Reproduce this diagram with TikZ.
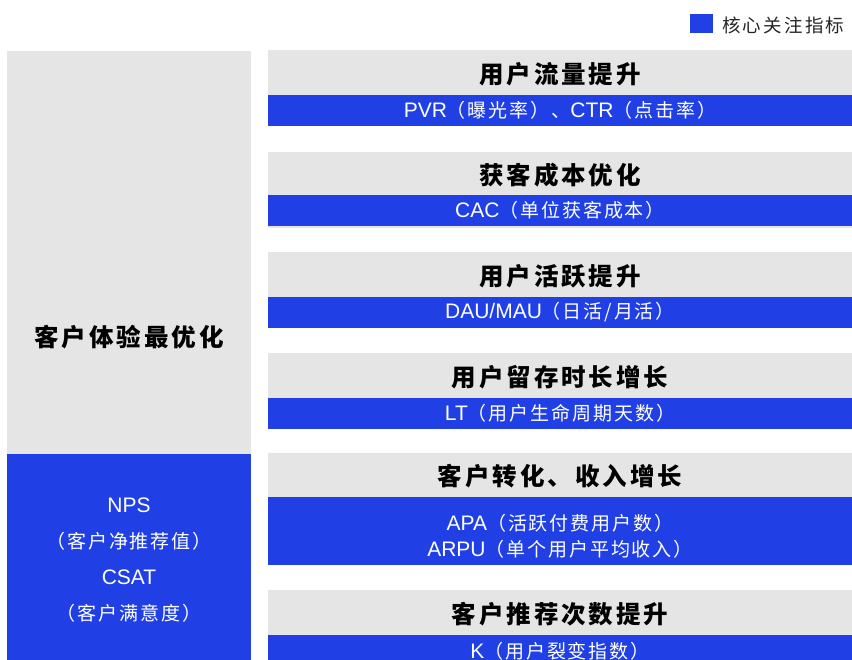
\documentclass[tikz,border=0pt]{standalone}
\usepackage{fontspec}
\setmainfont{Liberation Sans}
\newfontfamily\cjkt[LetterSpace=12]{Noto Sans CJK SC}
\newfontfamily\cjks[LetterSpace=10]{Noto Sans CJK SC}
\definecolor{kblue}{RGB}{32,64,230}
\definecolor{kgray}{RGB}{229,229,229}
\newcommand{\zh}[1]{{\cjks\fontsize{19}{25}\selectfont #1}}
\begin{document}
\begin{tikzpicture}[x=1pt,y=-1pt,
  box/.style={draw=none,inner sep=0pt,outer sep=0pt,anchor=north west},
  graybox/.style={box,fill=kgray},
  bluebox/.style={box,fill=kblue},
  ttl/.style={inner sep=0pt,font=\fontsize{24.5}{28}\selectfont\cjkt\bfseries,text=black},
  sub/.style={inner sep=0pt,font=\fontsize{21}{25}\selectfont,text=white,align=center},
]
\useasboundingbox (0,0) rectangle (852,660);

% legend
\node[bluebox,minimum width=23pt,minimum height=19pt] (leg) at (690,14) {};
\node[anchor=west,inner sep=0pt,font=\fontsize{18.5}{20}\selectfont\cjkt,text=black!85] (legt) at (722,25) {核心关注指标};

% left column
\node[graybox,minimum width=244pt,minimum height=403pt] (lg) at (7,51) {};
\node[bluebox,minimum width=244pt,minimum height=206pt] (lb) at (7,454) {};
\node[ttl] (lt) at (129,337) {客户体验最优化};
\node[sub,font=\fontsize{21}{36}\selectfont] (lbt) at (129,560) {NPS\\\zh{（客户净推荐值）}\\CSAT\\\zh{（客户满意度）}};

% block 1
\node[graybox,minimum width=584pt,minimum height=45pt] (g1) at (268,50) {};
\node[bluebox,minimum width=584pt,minimum height=31pt] (b1) at (268,95) {};
\node[ttl] (t1) at (560,74) {用户流量提升};
\node[sub] (s1) at (b1.center) {PVR\zh{（曝光率）、}CTR\zh{（点击率）}};

% block 2
\node[graybox,minimum width=584pt,minimum height=76pt] (g2) at (268,152) {};
\node[bluebox,minimum width=584pt,minimum height=31pt] (b2) at (268,195) {};
\node[ttl] (t2) at (560,175) {获客成本优化};
\node[sub] (s2) at (b2.center) {CAC\zh{（单位获客成本）}};

% block 3
\node[graybox,minimum width=584pt,minimum height=45pt] (g3) at (268,252) {};
\node[bluebox,minimum width=584pt,minimum height=31pt] (b3) at (268,297) {};
\node[ttl] (t3) at (560,276) {用户活跃提升};
\node[sub] (s3) at (b3.center) {DAU/MAU\zh{（日活/月活）}};

% block 4
\node[graybox,minimum width=584pt,minimum height=45pt] (g4) at (268,353) {};
\node[bluebox,minimum width=584pt,minimum height=31pt] (b4) at (268,398) {};
\node[ttl] (t4) at (560,377) {用户留存时长增长};
\node[sub] (s4) at (b4.center) {LT\zh{（用户生命周期天数）}};

% block 5
\node[graybox,minimum width=584pt,minimum height=44pt] (g5) at (268,453) {};
\node[bluebox,minimum width=584pt,minimum height=68pt] (b5) at (268,497) {};
\node[ttl] (t5) at (560,476) {客户转化、收入增长};
\node[sub,font=\fontsize{21}{26}\selectfont] (s5) at (560,536) {APA\zh{（活跃付费用户数）}\\ARPU\zh{（单个用户平均收入）}};

% block 6
\node[graybox,minimum width=584pt,minimum height=45pt] (g6) at (268,590) {};
\node[bluebox,minimum width=584pt,minimum height=31pt] (b6) at (268,635) {};
\node[ttl] (t6) at (560,614) {客户推荐次数提升};
\node[sub] (s6) at (560,651) {K\zh{（用户裂变指数）}};
\end{tikzpicture}
\end{document}
